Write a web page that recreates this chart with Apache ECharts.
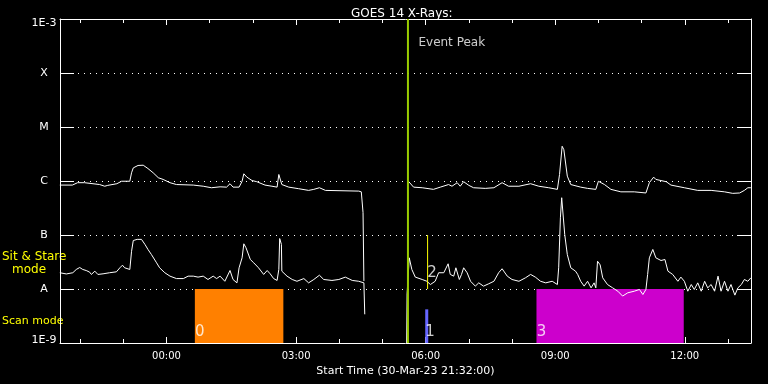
<!DOCTYPE html>
<html>
<head>
<meta charset="utf-8">
<script src="https://cdn.jsdelivr.net/npm/echarts@6/dist/echarts.min.js"></script>
<style>html,body{margin:0;padding:0;background:#000;}#c{width:768px;height:384px;}</style>
</head>
<body>
<div id="c"></div>
<script>
// Hours relative to 00:00 on 31-Mar-23 (start 21:32 on 30-Mar-23)
const axisStart = -2.4667, axisEnd = 13.5333;
const majorTicks = [0, 3, 6, 9, 12];
const majorLabels = ['00:00', '03:00', '06:00', '09:00', '12:00'];
const minorTicks = [-2,-1,1,2,4,5,7,8,10,11,13];
const yExponents = [-9,-8,-7,-6,-5,-4,-3];
const yLabels = ['1E-9','A','B','C','M','X','1E-3'];

const longTimes = [-2.47,-2.18,-2.17,-2.06,-1.90,-1.86,-1.55,-1.51,-1.43,-1.36,-1.32,-1.15,-1.12,-1.04,-0.85,-0.81,-0.77,-0.66,-0.54,-0.43,-0.31,-0.19,-0.08,0.08,0.23,0.62,0.85,1.04,1.24,1.39,1.47,1.54,1.68,1.75,1.79,1.86,1.98,2.09,2.28,2.44,2.56,2.60,2.63,2.67,2.83,3.06,3.29,3.41,3.54,3.68,4.45,4.51,4.55,4.57,5.0,5.60,5.62,5.72,5.92,6.18,6.34,6.53,6.61,6.73,6.80,6.88,7.00,7.11,7.38,7.58,7.77,7.92,8.16,8.43,8.62,8.85,9.05,9.10,9.16,9.20,9.28,9.36,9.59,9.75,9.94,10.00,10.04,10.14,10.29,10.52,10.83,11.10,11.18,11.28,11.33,11.57,11.68,11.99,12.30,12.61,12.92,13.11,13.27,13.38,13.46,13.53];
const longFlux = [8.4e-7,8.4e-7,8.9e-7,9.3e-7,9.3e-7,8.6e-7,8.6e-7,8.3e-7,8.0e-7,8.3e-7,8.9e-7,8.9e-7,9.3e-7,9.9e-7,9.9e-7,1.42e-6,1.75e-6,1.94e-6,1.96e-6,1.70e-6,1.42e-6,1.15e-6,1.07e-6,9.3e-7,8.6e-7,8.4e-7,8.0e-7,7.5e-7,7.8e-7,7.7e-7,8.9e-7,7.7e-7,7.7e-7,9.9e-7,1.36e-6,1.18e-6,1.02e-6,9.7e-7,8.4e-7,8.0e-7,7.7e-7,1.32e-6,1.23e-6,8.6e-7,7.7e-7,7.2e-7,6.7e-7,7.0e-7,7.5e-7,6.7e-7,6.5e-7,6.3e-7,2.6e-7,1.4e-8,null,9.9e-7,9.7e-7,7.7e-7,7.5e-7,7.0e-7,7.7e-7,8.6e-7,8.0e-7,9.3e-7,8.0e-7,9.7e-7,8.3e-7,7.5e-7,7.3e-7,7.5e-7,9.3e-7,8.0e-7,8.0e-7,8.9e-7,8.0e-7,7.5e-7,7.0e-7,1.32e-6,4.4e-6,3.8e-6,1.23e-6,8.6e-7,7.7e-7,7.3e-7,7.0e-7,9.9e-7,1.02e-6,8.6e-7,7.0e-7,6.3e-7,6.3e-7,6.0e-7,9.3e-7,1.18e-6,1.07e-6,9.7e-7,8.4e-7,7.5e-7,6.7e-7,6.7e-7,6.3e-7,5.9e-7,6.0e-7,6.7e-7,7.5e-7,7.5e-7];

const shortTimes = [-2.47,-2.32,-2.17,-2.09,-2.01,-1.94,-1.86,-1.78,-1.74,-1.66,-1.59,-1.47,-1.32,-1.16,-1.08,-1.02,-0.97,-0.85,-0.81,-0.77,-0.74,-0.68,-0.58,-0.50,-0.43,-0.35,-0.23,-0.16,-0.04,0.08,0.23,0.39,0.50,0.62,0.73,0.85,0.96,1.08,1.16,1.24,1.35,1.47,1.54,1.63,1.68,1.75,1.79,1.84,1.94,2.02,2.13,2.25,2.33,2.40,2.48,2.56,2.60,2.62,2.66,2.67,2.79,2.91,3.02,3.18,3.29,3.41,3.54,3.64,3.83,3.99,4.14,4.30,4.45,4.57,4.59,5.0,5.56,5.57,5.62,5.68,5.76,5.92,6.03,6.11,6.22,6.30,6.42,6.52,6.57,6.65,6.70,6.78,6.83,6.88,6.96,7.04,7.15,7.23,7.34,7.46,7.58,7.69,7.77,7.89,8.00,8.16,8.31,8.43,8.54,8.66,8.78,8.93,9.05,9.08,9.12,9.15,9.18,9.22,9.28,9.36,9.47,9.52,9.59,9.67,9.75,9.83,9.90,9.94,9.98,10.04,10.10,10.21,10.33,10.45,10.56,10.68,10.83,10.95,11.03,11.10,11.14,11.18,11.26,11.33,11.45,11.54,11.61,11.72,11.84,11.91,11.99,12.07,12.15,12.22,12.30,12.38,12.46,12.53,12.61,12.69,12.77,12.84,12.92,13.00,13.07,13.16,13.23,13.31,13.38,13.46,13.53];
const shortFlux = [2.0e-8,1.9e-8,2.0e-8,2.3e-8,2.5e-8,2.3e-8,2.2e-8,2.05e-8,1.86e-8,2.14e-8,1.86e-8,1.91e-8,2.0e-8,2.08e-8,2.47e-8,2.76e-8,2.47e-8,2.3e-8,5.0e-8,7.9e-8,7.3e-8,8.3e-8,8.3e-8,6.7e-8,5.4e-8,4.35e-8,3.05e-8,2.47e-8,2.0e-8,1.73e-8,1.56e-8,1.56e-8,1.73e-8,1.73e-8,1.66e-8,1.73e-8,1.5e-8,1.73e-8,1.56e-8,1.73e-8,1.39e-8,2.2e-8,1.5e-8,1.3e-8,2.47e-8,3.78e-8,6.87e-8,5.8e-8,3.52e-8,3.05e-8,2.47e-8,1.86e-8,2.2e-8,1.91e-8,1.56e-8,1.44e-8,2.3e-8,8.6e-8,6.7e-8,2.14e-8,1.73e-8,1.5e-8,1.39e-8,1.56e-8,1.3e-8,1.5e-8,1.8e-8,1.5e-8,1.44e-8,1.5e-8,1.66e-8,1.44e-8,1.39e-8,1.3e-8,3.4e-9,null,1.0e-9,8.1e-9,3.78e-8,2.3e-8,1.66e-8,1.5e-8,1.39e-8,1.21e-8,1.39e-8,2.0e-8,2.0e-8,2.93e-8,1.86e-8,1.73e-8,2.47e-8,1.5e-8,1.86e-8,2.47e-8,2.0e-8,1.39e-8,1.13e-8,1.3e-8,1.13e-8,1.25e-8,1.39e-8,2.0e-8,2.37e-8,1.73e-8,1.5e-8,1.39e-8,1.61e-8,1.86e-8,1.66e-8,1.39e-8,1.3e-8,1.39e-8,1.21e-8,2.47e-8,2.08e-7,4.9e-7,4.5e-7,1.02e-7,4.35e-8,2.47e-8,2.14e-8,1.86e-8,1.39e-8,1.13e-8,1.39e-8,1.05e-8,1.3e-8,1.05e-8,3.27e-8,2.8e-8,1.61e-8,1.21e-8,1.05e-8,9.1e-9,7.4e-9,8.5e-9,9.1e-9,9.8e-9,7.9e-9,9.8e-9,1.86e-8,3.78e-8,5.4e-8,3.78e-8,3.37e-8,3.52e-8,2.14e-8,1.86e-8,1.39e-8,1.66e-8,1.39e-8,9.1e-9,1.21e-8,9.8e-9,1.3e-8,9.1e-9,1.39e-8,1.05e-8,1.21e-8,9.1e-9,1.73e-8,9.1e-9,1.39e-8,9.1e-9,1.21e-8,7.7e-9,1.05e-8,1.21e-8,1.5e-8,1.39e-8,1.61e-8];

// Observation mode blocks
const blockStart = [0.656, 5.99, 8.566];
const blockEnd = [2.705, 6.06, 11.976];
const blockLow = [1e-9, 1e-9, 1e-9];
const blockHigh = [1e-8, 4.2e-9, 1e-8];
const blockColors = ['#ff8000', '#6666ff', '#cc00cc'];

const markTexts = ['0', '1', '2', '3'];
const markTimes = [0.77, 6.10, 6.15, 8.68];
const markFlux = [1.58e-9, 1.58e-9, 2.0e-8, 1.58e-9];

const eventPeakTime = 5.59;
const subEventTime = 6.045;

const font = 'DejaVu Sans';
const toPairs = (ts, vs) => ts.map((t, i) => [t, vs[i] == null ? '-' : vs[i]]);

const yMin = 1e-9, yMax = 1e-3;
const MAJOR_LEN = 6, MINOR_LEN = 4;

const chart = echarts.init(document.getElementById('c'));
const lineWhite = { show: true, onZero: false, lineStyle: { color: '#fff', width: 1 } };
const tickAxis = (pos, ticks, len) => ({
  type: 'value', min: axisStart, max: axisEnd, position: pos, splitLine: { show: false },
  axisLine: { show: false, onZero: false },
  axisTick: { show: true, inside: true, length: len, customValues: ticks, lineStyle: { color: '#ffffff', width: 1 } },
  axisLabel: { show: false, customValues: ticks }
});
chart.setOption({
  animation: false,
  backgroundColor: '#000',
  title: {
    text: 'GOES 14 X-Rays:', left: 346, top: 3,
    textStyle: { color: '#fff', fontFamily: font, fontSize: 12, fontWeight: 'normal' }
  },
  grid: { left: 60, right: 17, top: 19, bottom: 41 },
  xAxis: [
    {
      type: 'value', min: axisStart, max: axisEnd, position: 'bottom', splitLine: { show: false },
      name: 'Start Time (30-Mar-23 21:32:00)', nameLocation: 'middle', nameGap: 20,
      nameTextStyle: { color: '#fff', fontFamily: font, fontSize: 11 },
      axisLine: lineWhite,
      axisTick: { show: true, inside: true, length: MAJOR_LEN, customValues: majorTicks, lineStyle: { color: '#ffffff', width: 1 } },
      axisLabel: { show: true, customValues: majorTicks, margin: 8, color: '#fff', fontFamily: font, fontSize: 10,
        formatter: v => majorLabels[majorTicks.indexOf(Math.round(v))] }
    },
    {
      type: 'value', min: axisStart, max: axisEnd, position: 'top', splitLine: { show: false },
      axisLine: lineWhite,
      axisTick: { show: true, inside: true, length: MAJOR_LEN, customValues: majorTicks, lineStyle: { color: '#ffffff', width: 1 } },
      axisLabel: { show: false, customValues: majorTicks }
    },
    tickAxis('bottom', minorTicks, MINOR_LEN),
    tickAxis('top', minorTicks, MINOR_LEN)
  ],
  yAxis: [
    {
      type: 'log', logBase: 10, min: yMin, max: yMax, splitNumber: 6, position: 'left',
      axisLine: lineWhite,
      axisTick: { show: true, inside: true, length: 14, lineStyle: { color: '#fff' } },
      splitLine: { show: true, lineStyle: { color: '#fff', width: 1, type: [1, 5] } },
      axisLabel: {
        color: '#fff', fontFamily: font, fontSize: 11, align: 'center', margin: 16,
        formatter: v => {
          const e = Math.round(Math.log10(v));
          const s = yLabels[yExponents.indexOf(e)];
          if (e === -3) return '{hi|' + s + '}';
          if (e === -9) return '{lo|' + s + '}';
          return s;
        },
        rich: {
          hi: { color: '#fff', fontFamily: font, fontSize: 11, padding: [9, 0, 0, 0] },
          lo: { color: '#fff', fontFamily: font, fontSize: 11, padding: [0, 0, 6, 0] }
        }
      }
    },
    {
      type: 'log', logBase: 10, min: yMin, max: yMax, splitNumber: 6, position: 'right',
      axisLine: lineWhite,
      axisTick: { show: true, inside: true, length: 14, lineStyle: { color: '#fff' } },
      splitLine: { show: false },
      axisLabel: { show: false }
    }
  ],
  graphic: [
    { type: 'text', left: 2, top: 251, style: { text: 'Sit & Stare', fill: '#ffff00', font: '12px "DejaVu Sans"' } },
    { type: 'text', left: 12, top: 264, style: { text: 'mode', fill: '#ffff00', font: '12px "DejaVu Sans"' } },
    { type: 'text', left: 2, top: 316, style: { text: 'Scan mode', fill: '#ffff00', font: '11px "DejaVu Sans"' } }
  ],
  series: [
    {
      type: 'custom', xAxisIndex: 0, yAxisIndex: 0, z: 1, silent: true,
      data: blockStart.map((s, i) => [s, blockEnd[i], blockLow[i], blockHigh[i]]),
      renderItem: (params, api) => {
        const p0 = api.coord([api.value(0), api.value(3)]);
        const p1 = api.coord([api.value(1), api.value(2)]);
        return { type: 'rect', shape: { x: p0[0], y: p0[1], width: p1[0] - p0[0], height: p1[1] - p0[1] },
          style: { fill: blockColors[params.dataIndex] } };
      }
    },
    {
      type: 'line', xAxisIndex: 0, yAxisIndex: 0, z: 3, showSymbol: false, symbol: 'none',
      lineStyle: { color: '#fff', width: 1 }, data: toPairs(longTimes, longFlux), connectNulls: false
    },
    {
      type: 'line', xAxisIndex: 0, yAxisIndex: 0, z: 3, showSymbol: false, symbol: 'none',
      lineStyle: { color: '#fff', width: 1 }, data: toPairs(shortTimes, shortFlux), connectNulls: false
    },
    {
      type: 'line', xAxisIndex: 0, yAxisIndex: 0, z: 4, symbol: 'none',
      lineStyle: { color: '#99cc00', width: 2 }, data: [[eventPeakTime, yMin], [eventPeakTime, yMax]]
    },
    {
      type: 'line', xAxisIndex: 0, yAxisIndex: 0, z: 4, symbol: 'none',
      lineStyle: { color: '#ffff00', width: 1 }, data: [[subEventTime, 1e-8], [subEventTime, 1e-7]]
    },
    {
      type: 'scatter', xAxisIndex: 0, yAxisIndex: 0, z: 5, symbolSize: 1, itemStyle: { color: 'rgba(0,0,0,0)' },
      data: markTimes.map((t, i) => [t, markFlux[i]]),
      label: { show: true, position: 'inside', color: '#fff', fontFamily: font, fontSize: 15,
        formatter: p => markTexts[p.dataIndex] }
    },
    {
      type: 'scatter', xAxisIndex: 0, yAxisIndex: 0, z: 5, symbolSize: 1, itemStyle: { color: 'rgba(0,0,0,0)' },
      data: [[eventPeakTime, 3.67e-4]],
      label: { show: true, position: 'right', distance: 10, color: '#fff', fontFamily: font, fontSize: 12,
        formatter: 'Event Peak' }
    }
  ]
});
</script>
</body>
</html>
